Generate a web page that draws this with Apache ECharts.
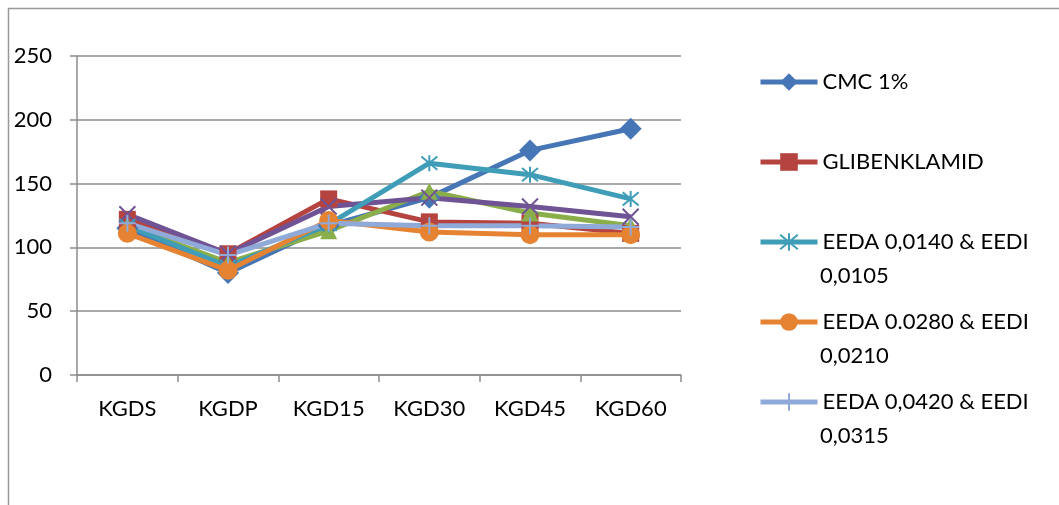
<!DOCTYPE html>
<html>
<head>
<meta charset="utf-8">
<script src="https://cdn.jsdelivr.net/npm/echarts@6/dist/echarts.min.js"></script>
<style>
  html, body { margin: 0; padding: 0; background: #ffffff; }
  #chart { width: 1059px; height: 505px; }
</style>
</head>
<body>
<div id="chart"></div>
<script>
// Blood glucose level per sampling time, per treatment group
const categories = ['KGDS', 'KGDP', 'KGD15', 'KGD30', 'KGD45', 'KGD60'];

const cmc      = [115, 80, 117, 139, 176, 193];
const gliben   = [122, 95, 138, 120, 119, 111];
const groupG   = [117, 88, 113, 144, 127, 117];
const groupP   = [126, 95, 132, 139, 132, 124];
const eeda0140 = [117, 85, 118, 166, 157, 138];
const eeda0280 = [111, 82, 121, 112, 110, 110];
const eeda0420 = [119, 94, 119, 117, 117, 116];

const yTicks = { min: 0, max: 250, interval: 50 };

const FONT = 'Lato';
const FONT_SIZE = 22;
const AXIS_GRAY = '#8c8c8c';

const SYM_X = 'path://M0,0L10,10M10,0L0,10';
const SYM_STAR = 'path://M0,0L10,10M10,0L0,10M5,-1L5,11';
const SYM_PLUS = 'path://M5,0L5,10M0,5L10,5';

function lineSeries(name, data, color, symbol, size, stroked) {
  return {
    name: name,
    type: 'line',
    data: data,
    symbol: symbol,
    symbolSize: size,
    showAllSymbol: true,
    lineStyle: { color: color, width: 5 },
    itemStyle: stroked
      ? { color: 'rgba(0,0,0,0)', borderColor: color, borderWidth: 2 }
      : { color: color, borderColor: color, borderWidth: 0 },
    emphasis: { disabled: true },
    animation: false
  };
}

const series = [
  lineSeries('CMC 1%', cmc, '#4676b5', 'diamond', 22, false),
  lineSeries('GLIBENKLAMID', gliben, '#b5433f', 'rect', 17, false),
  lineSeries('EEDA 0,0070 & EEDI 0,0053', groupG, '#8aae4a', 'triangle', 17, false),
  lineSeries('EEDA 0,0105 & EEDI 0,0079', groupP, '#6f5394', SYM_X, 16, true),
  lineSeries('EEDA 0,0140 & EEDI 0,0105', eeda0140, '#3f9db8', SYM_STAR, 16, true),
  lineSeries('EEDA 0.0280 & EEDI 0,0210', eeda0280, '#e58333', 'circle', 19, false),
  lineSeries('EEDA 0,0420 & EEDI 0,0315', eeda0420, '#8fa9d8', SYM_PLUS, 17, true)
];

// Legend rows: first line of each name beside its key, wrapped tail below
const legendNames = [series[0].name, series[1].name, series[4].name, series[5].name, series[6].name];
const legendFirst = ['CMC 1%', 'GLIBENKLAMID', 'EEDA 0,0140 & EEDI', 'EEDA 0.0280 & EEDI', 'EEDA 0,0420 & EEDI'];
const legendTail = ['', '', '0,0105', '0,0210', '0,0315'];
const legendRowY = [82, 162, 242, 322, 402];
const LEGEND_LINE = 34;
const LEGEND_TEXT_X = 820;

const legends = legendNames.map(function (n, i) {
  return {
    data: [n],
    left: 758,
    top: legendRowY[i] - 13,
    orient: 'vertical',
    itemWidth: 57,
    itemHeight: 22,
    itemGap: 0,
    padding: 0,
    selectedMode: false,
    lineStyle: { width: 5 },
    formatter: function () { return legendFirst[i]; },
    textStyle: { fontFamily: FONT, fontSize: FONT_SIZE, color: '#000', lineHeight: 26 }
  };
});

const tailTexts = legendTail.map(function (t, i) {
  return {
    type: 'text',
    left: LEGEND_TEXT_X,
    top: legendRowY[i] + LEGEND_LINE - 13,
    silent: true,
    style: { text: t, fontFamily: FONT, fontSize: FONT_SIZE, fill: '#000', lineHeight: 26 }
  };
}).filter(function (g) { return g.style.text; });

const chart = echarts.init(document.getElementById('chart'));
chart.setOption({
  backgroundColor: '#ffffff',
  animation: false,
  grid: { left: 77, right: 378, top: 56, bottom: 130 },
  graphic: [{
    type: 'rect',
    shape: { x: 8.5, y: 8.5, width: 1200, height: 600 },
    style: { fill: 'none', stroke: '#999', lineWidth: 1.5 },
    silent: true
  }].concat(tailTexts),
  legend: legends,
  xAxis: {
    type: 'category',
    data: categories,
    boundaryGap: true,
    axisLine: { lineStyle: { color: AXIS_GRAY, width: 1.5 } },
    axisTick: { show: true, length: 7, inside: false, lineStyle: { color: AXIS_GRAY, width: 1.5 } },
    axisLabel: { fontFamily: FONT, fontSize: FONT_SIZE, color: '#000', margin: 23 }
  },
  yAxis: {
    type: 'value',
    min: yTicks.min,
    max: yTicks.max,
    interval: yTicks.interval,
    axisLine: { show: true, lineStyle: { color: AXIS_GRAY, width: 1.5 } },
    axisTick: { show: true, length: 7, lineStyle: { color: AXIS_GRAY, width: 1.5 } },
    splitLine: { show: true, lineStyle: { color: AXIS_GRAY, width: 1.5 } },
    axisLabel: { fontFamily: FONT, fontSize: FONT_SIZE, color: '#000', margin: 25 }
  },
  series: series
});
</script>
</body>
</html>
